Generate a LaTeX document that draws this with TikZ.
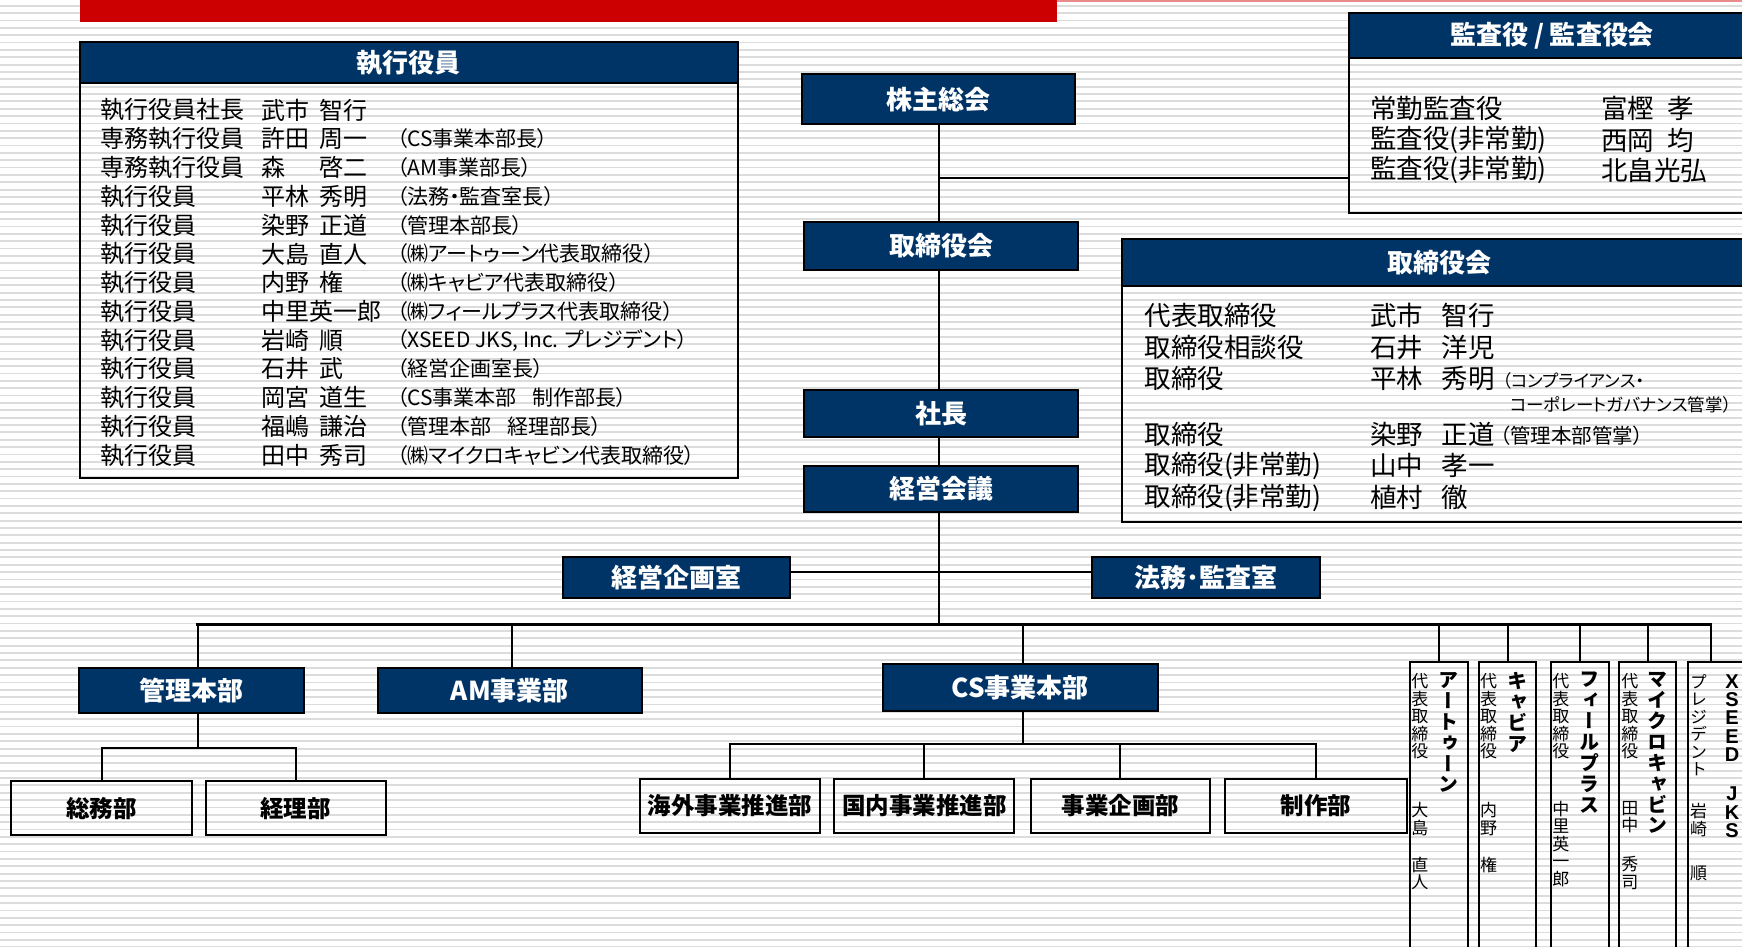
\documentclass[tikz,border=0pt]{standalone}
\usepackage{fontspec}
\setmainfont{Noto Sans CJK JP}[RawFeature=+palt]
\newfontfamily\vjp{Noto Sans CJK JP}[RawFeature=+vert]
\newfontfamily\lsans{Liberation Sans}
\usetikzlibrary{fit}
\definecolor{navy}{RGB}{0,51,102}
\definecolor{redbar}{RGB}{204,0,0}
\definecolor{pinkline}{RGB}{232,140,140}
\definecolor{stripecol}{RGB}{220,220,220}
\newcommand{\fsz}[1]{\fontsize{#1}{#1}\selectfont}
\newcommand{\nm}[3]{\makebox[#1][l]{#2}#3}
\tikzset{
  stripe/.style={draw=stripecol, line width=1.8pt},
  navybox/.style={draw=black, line width=2pt, fill=navy, inner sep=0pt},
  navytext/.style={text=white, font=\fsz{26}\bfseries, inner sep=0pt, anchor=center},
  whitebox/.style={draw=black, line width=2pt, inner sep=0pt},
  whitetext/.style={text=black, font=\fsz{23.5}\bfseries, inner sep=0pt, anchor=center},
  frame/.style={draw=black, line width=2pt, inner sep=0pt},
  conn/.style={draw=black, line width=2pt, line cap=rect},
  busline/.style={draw=black, line width=2.6pt, line cap=rect},
  ex/.style={anchor=west, inner sep=0pt, font=\fsz{24}},
  exn/.style={anchor=west, inner sep=0pt, font=\fsz{21}},
  bd/.style={anchor=west, inner sep=0pt, font=\fsz{26.5}},
  vrole/.style={anchor=north, inner sep=0pt, align=center, font=\vjp\fontsize{17}{17.5}\selectfont},
  vco/.style={anchor=north, inner sep=0pt, align=center, font=\vjp\bfseries\fontsize{20}{20.9}\selectfont},
  vlat/.style={anchor=north, inner sep=0pt, align=center, font=\lsans\bfseries\fontsize{20}{18.3}\selectfont},
}
\begin{document}
\begin{tikzpicture}[x=1.1111pt, y=-1.1111pt]
\useasboundingbox (0,0) rectangle (1568,852);
\clip (0,0) rectangle (1568,852);
\fill[white] (0,0) rectangle (1568,852);
\foreach \k in {0,...,129} \draw[stripe] (0,{5.2+6.62*\k}) -- (1568,{5.2+6.62*\k});
\fill[redbar] (72,0) rectangle (951,20);
\draw[pinkline, line width=2pt] (951,0.8) -- (1568,0.8);

% ---------- executive officers box
\node[frame, fit={(72,38) (664,430)}] (exec) {};
\node[navybox, fit={(72,38) (664,75)}] (exechead) {};
\node[navytext] (exechead-t) at (exechead.center) {執行役員};
\node[ex] (e1a) at (90,99) {執行役員社長};
\node[ex] (e1b) at (235,99) {\nm{2.44em}{武市}{智行}};
\node[ex] (e2a) at (90,124.9) {専務執行役員};
\node[ex] (e2b) at (235,124.9) {\nm{2.44em}{許田}{周一}};
\node[exn] (e2c) at (357,124.9) {（CS事業本部長）};
\node[ex] (e3a) at (90,150.8) {専務執行役員};
\node[ex] (e3b) at (235,150.8) {\nm{2.44em}{森}{啓二}};
\node[exn] (e3c) at (357,150.8) {（AM事業部長）};
\node[ex] (e4a) at (90,176.7) {執行役員};
\node[ex] (e4b) at (235,176.7) {\nm{2.44em}{平林}{秀明}};
\node[exn] (e4c) at (357,176.7) {（法務・監査室長）};
\node[ex] (e5a) at (90,202.6) {執行役員};
\node[ex] (e5b) at (235,202.6) {\nm{2.44em}{染野}{正道}};
\node[exn] (e5c) at (357,202.6) {（管理本部長）};
\node[ex] (e6a) at (90,228.5) {執行役員};
\node[ex] (e6b) at (235,228.5) {\nm{2.44em}{大島}{直人}};
\node[exn] (e6c) at (357,228.5) {（㈱アートゥーン代表取締役）};
\node[ex] (e7a) at (90,254.4) {執行役員};
\node[ex] (e7b) at (235,254.4) {\nm{2.44em}{内野}{権}};
\node[exn] (e7c) at (357,254.4) {（㈱キャビア代表取締役）};
\node[ex] (e8a) at (90,280.3) {執行役員};
\node[ex] (e8b) at (235,280.3) {中里英一郎};
\node[exn] (e8c) at (357,280.3) {（㈱フィールプラス代表取締役）};
\node[ex] (e9a) at (90,306.2) {執行役員};
\node[ex] (e9b) at (235,306.2) {\nm{2.44em}{岩崎}{順}};
\node[exn] (e9c) at (357,306.2) {（XSEED JKS, Inc. プレジデント）};
\node[ex] (e10a) at (90,332.1) {執行役員};
\node[ex] (e10b) at (235,332.1) {\nm{2.44em}{石井}{武}};
\node[exn] (e10c) at (357,332.1) {（経営企画室長）};
\node[ex] (e11a) at (90,358) {執行役員};
\node[ex] (e11b) at (235,358) {\nm{2.44em}{岡宮}{道生}};
\node[exn] (e11c) at (357,358) {（CS事業本部\hspace{0.75em}制作部長）};
\node[ex] (e12a) at (90,383.9) {執行役員};
\node[ex] (e12b) at (235,383.9) {\nm{2.44em}{福嶋}{謙治}};
\node[exn] (e12c) at (357,383.9) {（管理本部\hspace{0.75em}経理部長）};
\node[ex] (e13a) at (90,409.8) {執行役員};
\node[ex] (e13b) at (235,409.8) {\nm{2.44em}{田中}{秀司}};
\node[exn] (e13c) at (357,409.8) {（㈱マイクロキャビン代表取締役）};

% ---------- audit box
\node[frame, fit={(1214,12) (1580,192)}] (audit) {};
\node[navybox, fit={(1214,12) (1580,52)}] (audithead) {};
\node[navytext] (audithead-t) at (audithead.center) {監査役 / 監査役会};
\node[bd] (a1a) at (1233,97.5) {常勤監査役};
\node[bd] (a1b) at (1441,97.5) {\nm{2.5em}{富樫}{孝}};
\node[bd] (a2a) at (1233,126) {監査役(非常勤)};
\node[bd] (a2b) at (1441,126) {\nm{2.5em}{西岡}{均}};
\node[bd] (a3a) at (1233,153) {監査役(非常勤)};
\node[bd] (a3b) at (1441,153) {北畠光弘};

% ---------- board detail box
\node[frame, fit={(1010,215) (1582,470)}] (board) {};
\node[navybox, fit={(1010,215) (1582,257)}] (boardhead) {};
\node[navytext] (boardhead-t) at (boardhead.center) {取締役会};
\node[bd] (b1a) at (1030,284) {代表取締役};
\node[bd] (b1b) at (1233,284) {\nm{2.7em}{武市}{智行}};
\node[bd] (b2a) at (1030,313) {取締役相談役};
\node[bd] (b2b) at (1233,313) {\nm{2.7em}{石井}{洋児}};
\node[bd] (b3a) at (1030,341) {取締役};
\node[bd] (b3b) at (1233,341) {\nm{2.7em}{平林}{秀明}};
\node[anchor=west, inner sep=0pt, font=\fsz{17.5}] (b3c) at (1352,343) {（コンプライアンス・};
\node[anchor=west, inner sep=0pt, font=\fsz{17.5}] (b3d) at (1359,364) {コーポレートガバナンス管掌）};
\node[bd] (b4a) at (1030,391) {取締役};
\node[bd] (b4b) at (1233,391) {\nm{2.7em}{染野}{正道}};
\node[anchor=west, inner sep=0pt, font=\fsz{20.5}] (b4c) at (1350,392) {（管理本部管掌）};
\node[bd] (b5a) at (1030,419) {取締役(非常勤)};
\node[bd] (b5b) at (1233,419) {\nm{2.7em}{山中}{孝一}};
\node[bd] (b6a) at (1030,448) {取締役(非常勤)};
\node[bd] (b6b) at (1233,448) {\nm{2.7em}{植村}{徹}};

% ---------- central chain
\node[navybox, fit={(722,67) (968,112)}] (soukai) {};
\node[navytext] (soukai-t) at (soukai.center) {株主総会};
\node[navybox, fit={(724,200) (970,243)}] (torishimari) {};
\node[navytext] (torishimari-t) at (torishimari.center) {取締役会};
\node[navybox, fit={(724,351) (970,393)}] (shacho) {};
\node[navytext] (shacho-t) at (shacho.center) {社長};
\node[navybox, fit={(724,419) (970,461)}] (keiei) {};
\node[navytext] (keiei-t) at (keiei.center) {経営会議};
\node[navybox, fit={(507,501) (711,538)}] (kikaku) {};
\node[navytext] (kikaku-t) at (kikaku.center) {経営企画室};
\node[navybox, fit={(983,501) (1188,538)}] (houmu) {};
\node[navytext] (houmu-t) at (houmu.center) {法務･監査室};

% ---------- divisions
\node[navybox, fit={(71,601) (274,642)}] (kanri) {};
\node[navytext] (kanri-t) at (kanri.center) {管理本部};
\node[navybox, fit={(340,601) (578,642)}] (am) {};
\node[navytext] (am-t) at (am.center) {AM事業部};
\node[navybox, fit={(795,598) (1042,640)}] (cs) {};
\node[navytext] (cs-t) at (cs.center) {CS事業本部};
\node[whitebox, fit={(10,703) (173,752)}] (soumu) {};
\node[whitetext] (soumu-t) at (soumu.center) {総務部};
\node[whitebox, fit={(185,703) (347,752)}] (keiri) {};
\node[whitetext] (keiri-t) at (keiri.center) {経理部};
\node[whitebox, fit={(576,701) (738,750)}] (kaigai) {};
\node[whitetext] (kaigai-t) at (kaigai.center) {海外事業推進部};
\node[whitebox, fit={(751,701) (913,750)}] (kokunai) {};
\node[whitetext] (kokunai-t) at (kokunai.center) {国内事業推進部};
\node[whitebox, fit={(928,701) (1089,750)}] (jigyo) {};
\node[whitetext] (jigyo-t) at (jigyo.center) {事業企画部};
\node[whitebox, fit={(1103,701) (1266,750)}] (seisaku) {};
\node[whitetext] (seisaku-t) at (seisaku.center) {制作部};

% ---------- subsidiaries
\node[frame, fit={(1269,596) (1321,870)}] (sub1) {};
\node[frame, fit={(1331,596) (1383,870)}] (sub2) {};
\node[frame, fit={(1396,596) (1448,870)}] (sub3) {};
\node[frame, fit={(1457,596) (1509,870)}] (sub4) {};
\node[frame, fit={(1519,596) (1575,870)}] (sub5) {};

\node[vco] (s1c) at (1304,605) {ア\\ー\\ト\\ゥ\\ー\\ン};
\node[vrole] (s1r) at (1278,606) {代\\表\\取\\締\\役};
\node[vrole] (s1s) at (1278,722) {大\\島};
\node[vrole] (s1g) at (1278,771) {直\\人};

\node[vco] (s2c) at (1366,605) {キ\\ャ\\ビ\\ア};
\node[vrole] (s2r) at (1340,606) {代\\表\\取\\締\\役};
\node[vrole] (s2s) at (1340,722) {内\\野};
\node[vrole] (s2g) at (1340,771) {権};

\node[vco] (s3c) at (1431,605) {フ\\ィ\\ー\\ル\\プ\\ラ\\ス};
\node[vrole] (s3r) at (1405,606) {代\\表\\取\\締\\役};
\node[vrole] (s3s) at (1405,721) {中\\里\\英\\一\\郎};

\node[vco] (s4c) at (1492,605) {マ\\イ\\ク\\ロ\\キ\\ャ\\ビ\\ン};
\node[vrole] (s4r) at (1467,606) {代\\表\\取\\締\\役};
\node[vrole] (s4s) at (1467,721) {田\\中};
\node[vrole] (s4g) at (1467,771) {秀\\司};

\node[vlat] (s5c) at (1559,607) {X\\S\\E\\E\\D\\[21pt]J\\K\\S};
\node[vrole] (s5r) at (1529,607) {プ\\レ\\ジ\\デ\\ン\\ト};
\node[vrole] (s5s) at (1529,723) {岩\\崎};
\node[vrole] (s5g) at (1529,779) {順};

% ---------- connectors
\draw[conn] (soukai.south) -- (soukai.south |- torishimari.north);
\coordinate (aj) at (845,160);
\draw[conn] (aj) -- (aj -| audit.west);
\draw[conn] (soukai.south |- torishimari.south) -- (soukai.south |- shacho.north);
\draw[conn] (soukai.south |- shacho.south) -- (soukai.south |- keiei.north);
\coordinate (busy) at (0,562);
\draw[conn] (soukai.south |- keiei.south) -- (soukai.south |- busy);
\coordinate (ky) at (0,515);
\draw[conn] (kikaku.east |- ky) -- (houmu.west |- ky);
\coordinate (dk) at (178,562);
\coordinate (da) at (461,562);
\coordinate (dc) at (921,562);
\coordinate (d5) at (1540,562);
\draw[busline] (dk) -- (d5);
\draw[conn] (dk) -- (dk |- kanri.north);
\draw[conn] (da) -- (da |- am.north);
\draw[conn] (dc) -- (dc |- cs.north);
\foreach \s in {sub1,sub2,sub3,sub4} \draw[conn] (\s.north |- busy) -- (\s.north);
\draw[conn] (d5) -- (d5 |- sub5.north);
\coordinate (sy1) at (0,673);
\draw[conn] (dk |- kanri.south) -- (dk |- sy1);
\draw[conn] (soumu.north |- sy1) -- (keiri.north |- sy1);
\draw[conn] (soumu.north |- sy1) -- (soumu.north);
\draw[conn] (keiri.north |- sy1) -- (keiri.north);
\coordinate (sy2) at (0,670);
\draw[conn] (dc |- cs.south) -- (dc |- sy2);
\draw[conn] (kaigai.north |- sy2) -- (seisaku.north |- sy2);
\foreach \s in {kaigai,kokunai,jigyo,seisaku} \draw[conn] (\s.north |- sy2) -- (\s.north);
\end{tikzpicture}
\end{document}
